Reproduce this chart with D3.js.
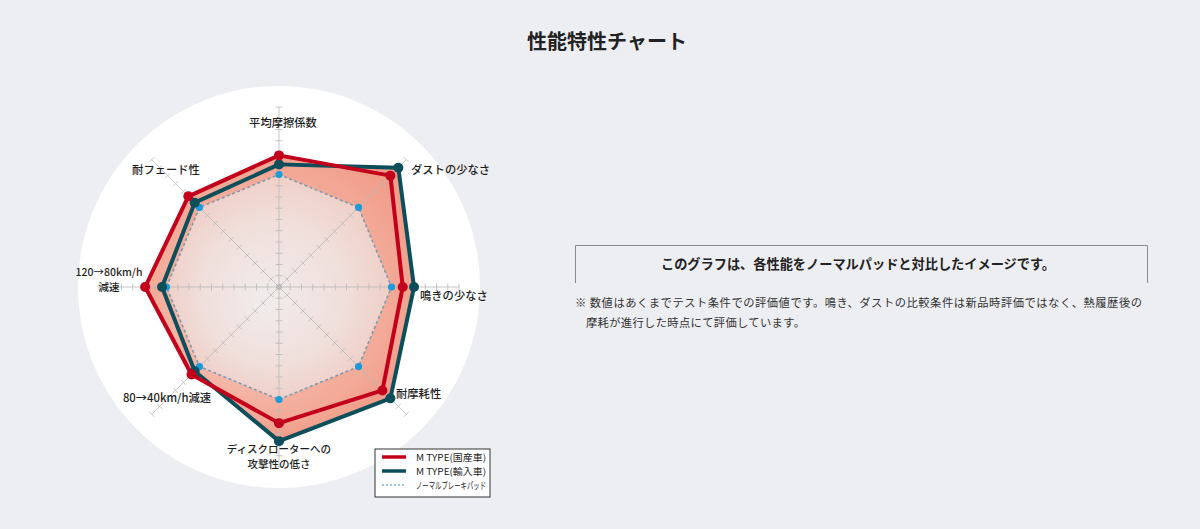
<!DOCTYPE html>
<html><head><meta charset="utf-8">
<script src="https://cdn.jsdelivr.net/npm/d3@7"></script>
<style>
html,body{margin:0;padding:0;background:#edeef2;}
svg{display:block;font-family:"Noto Sans CJK JP","Noto Sans",sans-serif;}
</style></head>
<body><svg id="c" width="1200" height="529"></svg>
<script>
const axes = ["平均摩擦係数","ダストの少なさ","鳴きの少なさ","耐摩耗性","ディスクローターへの\n攻撃性の低さ","80→40km/h減速","120→80km/h\n減速","耐フェード性"];
const domestic = [11.7, 14.0, 11.0, 13.0, 12.1, 11.0, 11.9, 11.4];
const imported = [10.9, 15.0, 12.0, 14.0, 13.7, 10.6, 10.4, 10.6];
const normal   = [10, 10, 10, 10, 10, 10, 10, 10];
const seriesNames = ["M TYPE(国産車)","M TYPE(輸入車)","ノーマルブレーキパッド"];
const scaleMax = 16;

const svg = d3.select("#c");
const cx = 279, cy = 287, R = 180;
const r = d3.scaleLinear().domain([0, scaleMax]).range([0, R]);
const ang = d3.scaleLinear().domain([0, axes.length]).range([0, 2*Math.PI]);
const pt = (i, v) => [cx + r(v)*Math.sin(ang(i)), cy - r(v)*Math.cos(ang(i))];

const defs = svg.append("defs");
const gOut = defs.append("radialGradient").attr("id","outG")
  .attr("gradientUnits","userSpaceOnUse").attr("cx",cx+20).attr("cy",cy-20).attr("r",R*1.1)
  .attr("fx",cx-60).attr("fy",cy+60);
gOut.append("stop").attr("offset","0").attr("stop-color","#f6c4b8");
gOut.append("stop").attr("offset","0.6").attr("stop-color","#f3aa98");
gOut.append("stop").attr("offset","1").attr("stop-color","#ec8a73");
const gIn = defs.append("radialGradient").attr("id","inG")
  .attr("gradientUnits","userSpaceOnUse").attr("cx",cx).attr("cy",cy).attr("r",R*0.66)
  .attr("fx",cx-15).attr("fy",cy+15);
gIn.append("stop").attr("offset","0").attr("stop-color","#f1ecec");
gIn.append("stop").attr("offset","0.6").attr("stop-color","#f0dfdb");
gIn.append("stop").attr("offset","1").attr("stop-color","#efcdc4");

// title
svg.append("text").attr("x",607).attr("y",49).attr("text-anchor","middle")
  .attr("font-size",20).attr("font-weight","bold").attr("fill","#222").text("性能特性チャート");

// white circle
svg.append("circle").attr("cx",cx).attr("cy",cy).attr("r",201).attr("fill","#fff");

const line = d3.line().curve(d3.curveLinearClosed);
const poly = vals => line(vals.map((v,i)=>pt(i,v)));

// fills
svg.append("path").attr("d",poly(imported)).attr("fill","url(#outG)");
svg.append("path").attr("d",poly(domestic)).attr("fill","url(#outG)");
svg.append("path").attr("d",poly(normal)).attr("fill","url(#inG)");

// spokes and ticks
const grid = svg.append("g").attr("stroke","#b9b9b9").attr("stroke-width",0.8).attr("fill","none");
axes.forEach((a,i)=>{
  const e = pt(i, scaleMax);
  grid.append("line").attr("x1",cx).attr("y1",cy).attr("x2",e[0]).attr("y2",e[1]);
  r.ticks(scaleMax).filter(t=>t>0).forEach(t=>{
    const p = pt(i,t), th = ang(i), h = 3.5;
    const dx = h*Math.cos(th), dy = h*Math.sin(th);
    grid.append("line").attr("x1",p[0]-dx).attr("y1",p[1]-dy).attr("x2",p[0]+dx).attr("y2",p[1]+dy);
  });
});
svg.append("circle").attr("cx",cx).attr("cy",cy).attr("r",3).attr("fill","#bbb");

// normal
svg.append("path").attr("d",poly(normal)).attr("fill","none").attr("stroke","#7d9ab3")
  .attr("stroke-width",1.6).attr("stroke-dasharray","3,2.5");
svg.selectAll(".nd").data(normal).join("circle").attr("cx",(d,i)=>pt(i,d)[0]).attr("cy",(d,i)=>pt(i,d)[1])
  .attr("r",3.6).attr("fill","#1f9ad8");

// imported
svg.append("path").attr("d",poly(imported)).attr("fill","none").attr("stroke","#0d4e5b").attr("stroke-width",4).attr("stroke-linejoin","round");
svg.selectAll(".id").data(imported).join("circle").attr("cx",(d,i)=>pt(i,d)[0]).attr("cy",(d,i)=>pt(i,d)[1])
  .attr("r",5).attr("fill","#0d4e5b");
// domestic
svg.append("path").attr("d",poly(domestic)).attr("fill","none").attr("stroke","#c3001b").attr("stroke-width",4).attr("stroke-linejoin","round");
svg.selectAll(".dd").data(domestic).join("circle").attr("cx",(d,i)=>pt(i,d)[0]).attr("cy",(d,i)=>pt(i,d)[1])
  .attr("r",5).attr("fill","#c3001b");

// labels
const labelPos = [
  {x:283,y:127,a:"middle"},
  {x:411,y:174,a:"start"},
  {x:420,y:300,a:"start"},
  {x:396,y:398,a:"start"},
  {x:279,y:453,a:"middle"},
  {x:167,y:402,a:"middle"},
  {x:109,y:276,a:"middle"},
  {x:166,y:174,a:"middle"}
];
axes.forEach((a,i)=>{
  const lines = a.split("\n");
  const fs = lines.length > 1 ? 10.5 : 11.3;
  lines.forEach((s,k)=>{
    svg.append("text").attr("x",labelPos[i].x).attr("y",labelPos[i].y + k*15.4)
      .attr("text-anchor",labelPos[i].a).attr("font-size",fs).attr("fill","#1e1e1e")
      .attr("font-weight",500).text(s);
  });
});

// legend
const lg = svg.append("g").attr("transform","translate(375,449)");
lg.append("rect").attr("width",115).attr("height",48).attr("fill","#fff").attr("stroke","#333").attr("stroke-width",1);
const lstyles = [{c:"#c3001b",w:3.5,d:null},{c:"#0d4e5b",w:3.5,d:null},{c:"#3a8fc0",w:1,d:"2,2"}];
seriesNames.forEach((n,i)=>{
  const y = 8 + i*14;
  lg.append("line").attr("x1",7).attr("x2",31).attr("y1",y).attr("y2",y)
    .attr("stroke",lstyles[i].c).attr("stroke-width",lstyles[i].w).attr("stroke-dasharray",lstyles[i].d);
  lg.append("text").attr("x",41).attr("y",y+3.5).attr("font-size",9.5).attr("fill","#222")
    .attr("textLength",70).attr("lengthAdjust","spacingAndGlyphs").text(n);
});

// info box
svg.append("path").attr("d","M575.5,283 V245.5 H1147.5 V283").attr("fill","none").attr("stroke","#8a8a8a").attr("stroke-width",1);
svg.append("text").attr("x",858).attr("y",269).attr("text-anchor","middle").attr("font-size",13.2)
  .attr("font-weight","bold").attr("fill","#222").text("このグラフは、各性能をノーマルパッドと対比したイメージです。");
svg.append("text").attr("x",575).attr("y",307).attr("font-size",11.3).attr("fill","#333")
  .attr("textLength",567).attr("lengthAdjust","spacing")
  .text("※ 数値はあくまでテスト条件での評価値です。鳴き、ダストの比較条件は新品時評価ではなく、熱履歴後の");
svg.append("text").attr("x",586).attr("y",327).attr("font-size",11.3).attr("fill","#333")
  .attr("textLength",219).attr("lengthAdjust","spacing")
  .text("摩耗が進行した時点にて評価しています。");
</script></body></html>
